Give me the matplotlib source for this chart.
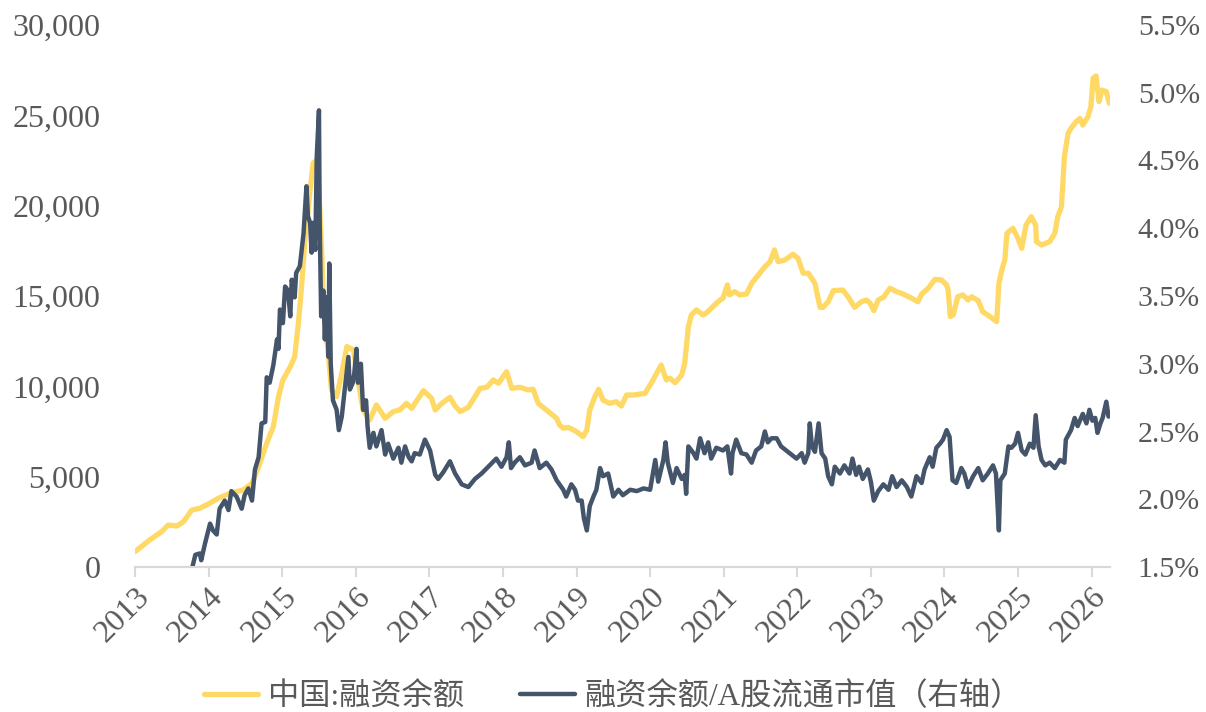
import matplotlib
matplotlib.use("Agg")
import matplotlib.pyplot as plt
from matplotlib.ticker import FuncFormatter, FixedLocator

# 中国:融资余额 (亿元), decimal-year dates
balance_t = [
    2013.00, 2013.20, 2013.36, 2013.45, 2013.57, 2013.66, 2013.77, 2013.88,
    2014.02, 2014.13, 2014.29, 2014.47, 2014.59, 2014.68, 2014.79, 2014.88,
    2014.95, 2015.01, 2015.11, 2015.17, 2015.22, 2015.26, 2015.31, 2015.38,
    2015.42, 2015.47, 2015.51, 2015.54, 2015.56, 2015.63, 2015.67, 2015.74,
    2015.81, 2015.88, 2015.97, 2016.03, 2016.10, 2016.19, 2016.28, 2016.40,
    2016.51, 2016.60, 2016.69, 2016.76, 2016.92, 2017.03, 2017.08, 2017.17,
    2017.28, 2017.35, 2017.42, 2017.53, 2017.69, 2017.78, 2017.87, 2017.94,
    2018.05, 2018.12, 2018.23, 2018.34, 2018.41, 2018.48, 2018.59, 2018.73,
    2018.77, 2018.82, 2018.89, 2019.00, 2019.09, 2019.14, 2019.18, 2019.25,
    2019.30, 2019.36, 2019.45, 2019.54, 2019.61, 2019.68, 2019.77, 2019.93,
    2020.00, 2020.04, 2020.15, 2020.22, 2020.27, 2020.34, 2020.43, 2020.47,
    2020.52, 2020.56, 2020.63, 2020.72, 2020.77, 2020.83, 2020.95, 2020.99,
    2021.05, 2021.08, 2021.15, 2021.22, 2021.31, 2021.38, 2021.47, 2021.56,
    2021.63, 2021.69, 2021.74, 2021.83, 2021.94, 2022.01, 2022.08, 2022.15,
    2022.24, 2022.31, 2022.35, 2022.42, 2022.49, 2022.62, 2022.69, 2022.78,
    2022.87, 2022.94, 2022.99, 2023.04, 2023.10, 2023.17, 2023.26, 2023.35,
    2023.44, 2023.53, 2023.64, 2023.69, 2023.78, 2023.87, 2023.96, 2024.03,
    2024.05, 2024.08, 2024.12, 2024.18, 2024.25, 2024.32, 2024.37, 2024.46,
    2024.52, 2024.62, 2024.71, 2024.74, 2024.78, 2024.82, 2024.85, 2024.93,
    2025.00, 2025.05, 2025.11, 2025.18, 2025.24, 2025.25, 2025.32, 2025.43,
    2025.50, 2025.54, 2025.59, 2025.63, 2025.68, 2025.72, 2025.79, 2025.84,
    2025.88, 2025.95, 2025.99, 2026.02, 2026.06, 2026.10, 2026.14, 2026.20,
    2026.24,
]
balance_v = [
    850, 1500, 1950, 2320, 2270, 2510, 3150, 3250,
    3540, 3800, 4080, 4260, 4630, 5550, 6850, 7770,
    9430, 10350, 11090, 11640, 13490, 15330, 18100, 20870,
    22350, 22530, 19940, 17180, 14410, 11640, 9800, 9430,
    10720, 12200, 12010, 10350, 8690, 8140, 8970, 8230,
    8600, 8700, 9060, 8780, 9760, 9340, 8690, 9060,
    9390, 8910, 8600, 8840, 9890, 9950, 10350, 10170,
    10810, 9890, 9950, 9800, 9840, 9060, 8690, 8230,
    7860, 7680, 7730, 7490, 7210, 7580, 8690, 9430,
    9840, 9240, 9060, 9150, 8910, 9520, 9520, 9610,
    10070, 10350, 11180, 10350, 10450, 10200, 10630, 11270,
    13300, 13950, 14230, 13950, 14080, 14320, 14780, 14870,
    15610, 15060, 15240, 15060, 15110, 15700, 16160, 16620,
    16900, 17550, 16900, 16990, 17310, 17090, 16260, 16260,
    15700, 14370, 14370, 14680, 15300, 15330, 14960, 14370,
    14680, 14780, 14600, 14190, 14780, 14930, 15430, 15240,
    15110, 14930, 14680, 15110, 15430, 15920, 15890, 15610,
    15330, 13860, 13950, 14960, 15060, 14780, 14960, 14740,
    14130, 13860, 13580, 15700, 16440, 16990, 18470, 18750,
    18190, 17640, 18930, 19390, 18930, 18010, 17820, 18010,
    18470, 19390, 19940, 22710, 24000, 24280, 24650, 24830,
    24460, 24920, 25480, 27050, 27180, 25760, 26400, 26310,
    25670,
]

# 融资余额/A股流通市值 (%), decimal-year dates
ratio_t = [
    2013.78, 2013.82, 2013.88, 2013.90, 2013.95, 2014.02, 2014.06, 2014.11,
    2014.15, 2014.22, 2014.27, 2014.31, 2014.38, 2014.45, 2014.49, 2014.54,
    2014.59, 2014.63, 2014.68, 2014.72, 2014.77, 2014.79, 2014.83, 2014.88,
    2014.93, 2014.95, 2014.97, 2015.01, 2015.04, 2015.08, 2015.11, 2015.13,
    2015.17, 2015.19, 2015.24, 2015.29, 2015.33, 2015.35, 2015.38, 2015.40,
    2015.42, 2015.45, 2015.47, 2015.50, 2015.51, 2015.53, 2015.56, 2015.58,
    2015.60, 2015.63, 2015.64, 2015.66, 2015.69, 2015.74, 2015.77, 2015.81,
    2015.85, 2015.90, 2015.92, 2015.96, 2015.98, 2016.01, 2016.03, 2016.07,
    2016.10, 2016.14, 2016.16, 2016.19, 2016.24, 2016.28, 2016.35, 2016.40,
    2016.44, 2016.51, 2016.58, 2016.62, 2016.67, 2016.72, 2016.76, 2016.80,
    2016.87, 2016.94, 2017.01, 2017.08, 2017.12, 2017.19, 2017.28, 2017.35,
    2017.44, 2017.53, 2017.62, 2017.71, 2017.82, 2017.91, 2017.98, 2018.05,
    2018.08, 2018.11, 2018.16, 2018.23, 2018.30, 2018.39, 2018.43, 2018.50,
    2018.59, 2018.66, 2018.73, 2018.82, 2018.86, 2018.93, 2018.98, 2019.02,
    2019.07, 2019.10, 2019.14, 2019.18, 2019.23, 2019.27, 2019.32, 2019.36,
    2019.43, 2019.50, 2019.57, 2019.63, 2019.73, 2019.82, 2019.91, 2020.00,
    2020.07, 2020.11, 2020.18, 2020.21, 2020.24, 2020.31, 2020.36, 2020.43,
    2020.47, 2020.49, 2020.52, 2020.59, 2020.63, 2020.68, 2020.74, 2020.79,
    2020.83, 2020.90, 2020.99, 2021.05, 2021.10, 2021.12, 2021.17, 2021.24,
    2021.31, 2021.38, 2021.44, 2021.51, 2021.56, 2021.60, 2021.65, 2021.72,
    2021.78, 2021.85, 2021.92, 2021.99, 2022.06, 2022.10, 2022.15, 2022.17,
    2022.20, 2022.24, 2022.29, 2022.33, 2022.38, 2022.42, 2022.47, 2022.51,
    2022.58, 2022.64, 2022.71, 2022.75, 2022.80, 2022.84, 2022.89, 2022.96,
    2023.00, 2023.04, 2023.10, 2023.17, 2023.24, 2023.29, 2023.35, 2023.42,
    2023.49, 2023.55, 2023.62, 2023.69, 2023.73, 2023.80, 2023.84, 2023.89,
    2023.94, 2023.98, 2024.03, 2024.07, 2024.11, 2024.16, 2024.23, 2024.27,
    2024.32, 2024.39, 2024.46, 2024.52, 2024.59, 2024.66, 2024.70, 2024.74,
    2024.76, 2024.82, 2024.87, 2024.91, 2024.96, 2025.00, 2025.05, 2025.10,
    2025.16, 2025.21, 2025.24, 2025.28, 2025.32, 2025.37, 2025.43, 2025.50,
    2025.57, 2025.63, 2025.65, 2025.72, 2025.77, 2025.81, 2025.88, 2025.93,
    2025.97, 2026.01, 2026.05, 2026.08, 2026.12, 2026.15, 2026.20, 2026.23,
    2026.25,
]
ratio_v = [
    1.50, 1.59, 1.60, 1.55, 1.67, 1.82, 1.77, 1.74,
    1.93, 1.99, 1.92, 2.06, 2.02, 1.93, 2.03, 2.08,
    1.99, 2.22, 2.31, 2.56, 2.57, 2.90, 2.86, 2.99,
    3.18, 3.11, 3.40, 3.30, 3.57, 3.54, 3.35, 3.62,
    3.49, 3.67, 3.72, 3.96, 4.31, 4.09, 4.04, 3.82,
    4.04, 3.84, 4.53, 4.87, 4.04, 3.35, 3.54, 3.18,
    3.49, 3.05, 3.74, 3.00, 2.73, 2.66, 2.51, 2.61,
    2.81, 3.05, 2.81, 2.86, 2.93, 3.11, 2.86, 3.00,
    2.66, 2.73, 2.54, 2.38, 2.49, 2.39, 2.51, 2.33,
    2.41, 2.30, 2.38, 2.27, 2.39, 2.31, 2.28, 2.34,
    2.33, 2.44, 2.36, 2.18, 2.15, 2.20, 2.28, 2.19,
    2.11, 2.09, 2.15, 2.19, 2.25, 2.30, 2.24, 2.31,
    2.42, 2.23, 2.27, 2.31, 2.25, 2.27, 2.36, 2.23,
    2.27, 2.22, 2.14, 2.07, 2.02, 2.11, 2.07, 1.99,
    1.99, 1.86, 1.77, 1.95, 2.02, 2.07, 2.23, 2.17,
    2.19, 2.02, 2.07, 2.03, 2.07, 2.06, 2.08, 2.07,
    2.29, 2.13, 2.29, 2.42, 2.27, 2.12, 2.23, 2.15,
    2.18, 2.04, 2.39, 2.34, 2.30, 2.45, 2.34, 2.42,
    2.30, 2.38, 2.36, 2.39, 2.19, 2.34, 2.44, 2.34,
    2.33, 2.27, 2.36, 2.39, 2.50, 2.42, 2.45, 2.45,
    2.39, 2.36, 2.33, 2.30, 2.34, 2.27, 2.34, 2.56,
    2.39, 2.35, 2.56, 2.34, 2.30, 2.17, 2.11, 2.24,
    2.19, 2.25, 2.19, 2.30, 2.18, 2.24, 2.15, 2.22,
    2.13, 1.99, 2.06, 2.11, 2.07, 2.17, 2.09, 2.14,
    2.09, 2.02, 2.17, 2.12, 2.22, 2.31, 2.24, 2.38,
    2.41, 2.44, 2.51, 2.46, 2.14, 2.12, 2.23, 2.19,
    2.09, 2.17, 2.23, 2.14, 2.19, 2.25, 2.19, 1.77,
    2.14, 2.19, 2.39, 2.38, 2.41, 2.49, 2.36, 2.33,
    2.41, 2.38, 2.62, 2.39, 2.29, 2.25, 2.27, 2.23,
    2.29, 2.27, 2.44, 2.51, 2.60, 2.54, 2.63, 2.56,
    2.66, 2.58, 2.60, 2.49, 2.56, 2.60, 2.72, 2.61,
    2.63,
]

years = list(range(2013, 2027))
left_ticks = [0, 5000, 10000, 15000, 20000, 25000, 30000]
right_ticks = [1.5, 2.0, 2.5, 3.0, 3.5, 4.0, 4.5, 5.0, 5.5]

label_balance = "中国:融资余额"
label_ratio = "融资余额/A股流通市值（右轴）"

GOLD = "#FFD966"
SLATE = "#44546A"
TEXT = "#595959"
AXIS = "#D9D9D9"
FONTS = ["Liberation Serif", "Noto Sans CJK SC"]

plt.rcParams["font.family"] = FONTS

fig = plt.figure(figsize=(12.06, 7.12), dpi=100)
ax = fig.add_axes([135 / 1206, 1 - 567 / 712, (1110 - 135) / 1206, (567 - 25) / 712])
ax2 = ax.twinx()

l1, = ax.plot(balance_t, balance_v, color=GOLD, lw=3.8, solid_joinstyle="round",
              solid_capstyle="round", label=label_balance)
l2, = ax2.plot(ratio_t, ratio_v, color=SLATE, lw=3.2, solid_joinstyle="round",
               solid_capstyle="round", label=label_ratio)

ax.set_xlim(2013, 2026.25)
ax.set_ylim(0, 30000)
ax2.set_ylim(1.5, 5.5)

ax.yaxis.set_major_locator(FixedLocator(left_ticks))
ax.yaxis.set_major_formatter(FuncFormatter(lambda v, p: f"{v:,.0f}"))
ax2.yaxis.set_major_locator(FixedLocator(right_ticks))
ax2.yaxis.set_major_formatter(FuncFormatter(lambda v, p: f"{v:.1f}%"))

ax.set_xticks(years)
ax.set_xticklabels([str(y) for y in years], rotation=45, ha="right", va="top",
                   rotation_mode="anchor")

for a in (ax, ax2):
    for s in ("top", "left", "right"):
        a.spines[s].set_visible(False)
    a.spines["bottom"].set_color(AXIS)
    a.spines["bottom"].set_linewidth(1.5)

ax.tick_params(axis="x", colors=AXIS, labelcolor=TEXT, length=7, width=1.5,
               direction="out", labelsize=23, pad=4)
ax.tick_params(axis="y", length=0, labelcolor=TEXT, labelsize=23, pad=25)
ax2.tick_params(axis="y", length=0, labelcolor=TEXT, labelsize=21.5, pad=20)

leg = fig.legend([l1, l2], [label_balance, label_ratio], loc="lower center",
                 bbox_to_anchor=(0.508, -0.04), ncol=2, frameon=False,
                 fontsize=22.5, handlelength=1.75, handletextpad=0.3,
                 columnspacing=1.8)
for t in leg.get_texts():
    t.set_color(TEXT)

fig.savefig("out.png", dpi=100)
